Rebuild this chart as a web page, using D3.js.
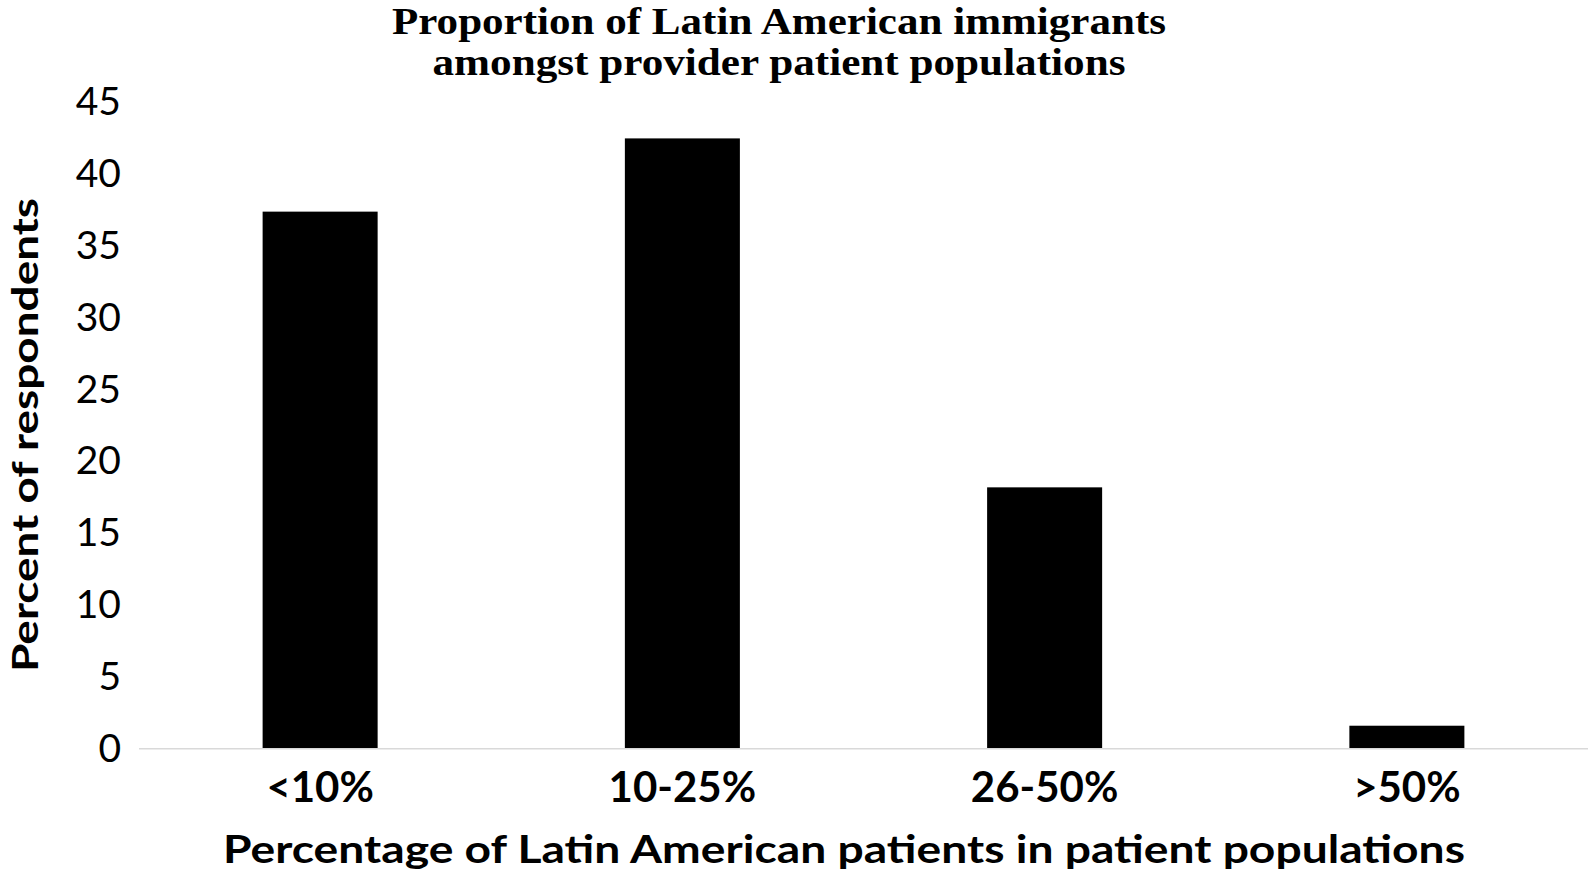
<!DOCTYPE html>
<html>
<head>
<meta charset="utf-8">
<script src="https://cdn.jsdelivr.net/npm/d3@7"></script>
<style>
  body { margin: 0; background: #fff; }
  .tick text { fill: #000; }
</style>
</head>
<body>
<div class="chart"></div>
<script>
var svgWidth = 1593;
var svgHeight = 878;

// Chart data
var categories = ["<10%", "10-25%", "26-50%", ">50%"];
var percents = [37.4, 42.5, 18.2, 1.6];
var yTicks = [0, 5, 10, 15, 20, 25, 30, 35, 40, 45];
var titleLines = ["Proportion of Latin American immigrants", "amongst provider patient populations"];

var svg = d3.select(".chart")
  .append("svg")
  .attr("width", svgWidth)
  .attr("height", svgHeight);

// Scales
var xBandScale = d3.scaleBand()
  .domain(categories)
  .range([139, 1588])
  .paddingInner(0.6825)
  .paddingOuter(0.34125);

var yLinearScale = d3.scaleLinear()
  .domain([0, 45])
  .range([748.7, 102.5]);

// Bars
svg.selectAll("rect.bar")
  .data(categories)
  .enter()
  .append("rect")
  .attr("class", "bar")
  .attr("x", d => xBandScale(d))
  .attr("y", (d, i) => yLinearScale(percents[i]))
  .attr("width", xBandScale.bandwidth())
  .attr("height", (d, i) => yLinearScale(0) - yLinearScale(percents[i]))
  .attr("fill", "#000");

// Baseline
svg.append("line")
  .attr("x1", 139)
  .attr("x2", 1588)
  .attr("y1", yLinearScale(0))
  .attr("y2", yLinearScale(0))
  .attr("stroke", "#d9d9d9")
  .attr("stroke-width", 1.5);

// Left axis (labels only)
var leftAxis = d3.axisLeft(yLinearScale)
  .tickValues(yTicks)
  .tickSize(0)
  .tickPadding(18)
  .tickFormat(d3.format("d"));

var yAxisG = svg.append("g")
  .attr("transform", "translate(139, 0)")
  .call(leftAxis);
yAxisG.select(".domain").remove();
yAxisG.selectAll("text")
  .attr("font-family", "Lato, 'Open Sans', sans-serif")
  .attr("font-size", 39);

// Bottom axis (labels only)
var bottomAxis = d3.axisBottom(xBandScale)
  .tickSize(0)
  .tickPadding(23);

var xAxisG = svg.append("g")
  .attr("transform", `translate(0, ${yLinearScale(0)})`)
  .call(bottomAxis);
xAxisG.select(".domain").remove();
xAxisG.selectAll("text")
  .attr("font-family", "Lato, 'Open Sans', sans-serif")
  .attr("font-weight", "bold")
  .attr("font-size", 42);

// Title
var titleWidths = [774, 693];
svg.selectAll("text.title")
  .data(titleLines)
  .enter()
  .append("text")
  .attr("class", "title")
  .attr("x", 779)
  .attr("y", (d, i) => i === 0 ? 33.5 : 75)
  .attr("text-anchor", "middle")
  .attr("font-family", "'Liberation Serif', 'Times New Roman', serif")
  .attr("font-weight", "bold")
  .attr("font-size", 37)
  .attr("textLength", (d, i) => titleWidths[i])
  .attr("lengthAdjust", "spacingAndGlyphs")
  .text(d => d);

// Axis titles
svg.append("text")
  .attr("x", 844)
  .attr("y", 863)
  .attr("text-anchor", "middle")
  .attr("font-family", "Lato, 'Open Sans', sans-serif")
  .attr("font-weight", "bold")
  .attr("font-size", 39)
  .attr("textLength", 1242)
  .attr("lengthAdjust", "spacingAndGlyphs")
  .text("Percentage of Latin American patients in patient populations");

svg.append("text")
  .attr("transform", "translate(37.5, 435) rotate(-90)")
  .attr("text-anchor", "middle")
  .attr("font-family", "Lato, 'Open Sans', sans-serif")
  .attr("font-weight", "bold")
  .attr("font-size", 37)
  .attr("textLength", 474)
  .attr("lengthAdjust", "spacingAndGlyphs")
  .text("Percent of respondents");
</script>
</body>
</html>
